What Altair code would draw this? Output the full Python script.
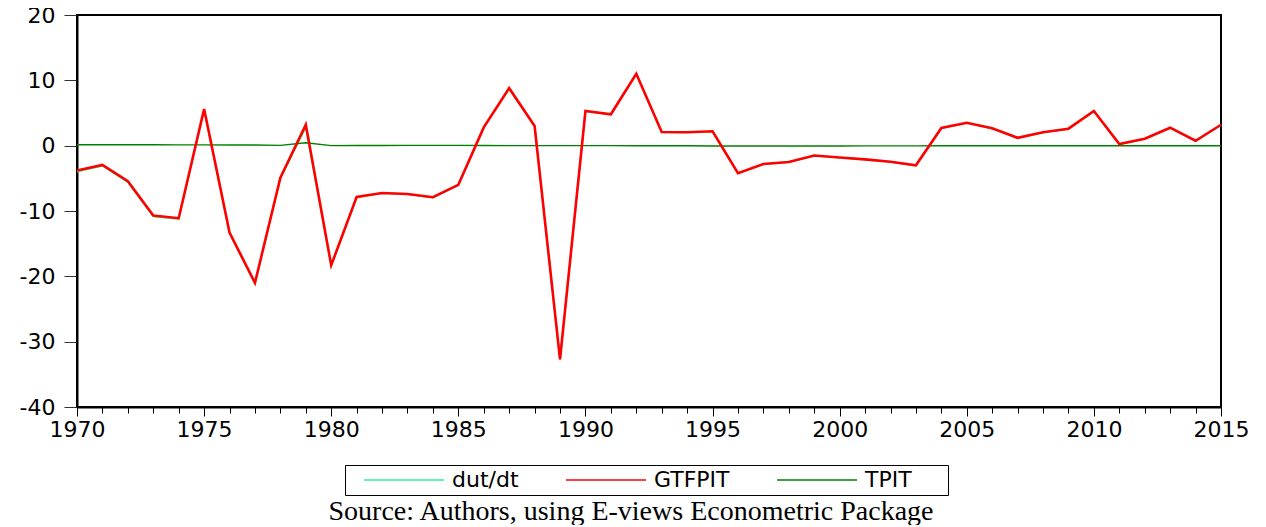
import altair as alt
import pandas as pd

years = list(range(1970, 2016))

gtfpit = [-3.8, -2.95, -5.45, -10.7, -11.1, 5.6, -13.3, -21.0, -4.9, 3.2,
          -18.3, -7.85, -7.25, -7.4, -7.9, -6.0, 2.8, 8.8, 3.0, -32.7,
          5.3, 4.8, 11.0, 2.1, 2.05, 2.2, -4.2, -2.8, -2.5, -1.5,
          -1.8, -2.1, -2.45, -3.0, 2.7, 3.5, 2.65, 1.2, 2.05, 2.6,
          5.3, 0.25, 1.05, 2.75, 0.75, 3.2]

dut_dt = [-4.0, -3.1, -5.6, -10.85, -11.25, 5.45, -13.45, -21.15, -5.0, 2.75,
          -18.35, -7.9, -7.3, -7.45, -7.95, -6.05, 2.75, 8.75, 2.95, -32.75,
          5.25, 4.75, 10.95, 2.05, 2.0, 2.15, -4.25, -2.85, -2.55, -1.55,
          -1.85, -2.15, -2.5, -3.05, 2.65, 3.45, 2.6, 1.15, 2.0, 2.55,
          5.25, 0.2, 1.0, 2.7, 0.7, 3.15]

tpit = [0.15, 0.15, 0.15, 0.15, 0.12, 0.12, 0.1, 0.1, 0.05, 0.45,
        0.0, 0.02, 0.02, 0.05, 0.05, 0.05, 0.03, 0.0, 0.0, 0.0,
        0.0, 0.0, -0.02, -0.02, -0.02, -0.05, -0.05, -0.05, -0.05, -0.05,
        -0.05, -0.03, -0.03, -0.03, -0.02, -0.02, -0.02, -0.02, -0.02, -0.02,
        -0.02, -0.02, -0.02, -0.02, -0.02, -0.02]

series_names = ["dut/dt", "GTFPIT", "TPIT"]
series_colors = ["#33F08A", "#FF0000", "#008000"]
series_widths = {"dut/dt": 1.5, "GTFPIT": 2.6, "TPIT": 1.4}
y_ticks = [20, 10, 0, -10, -20, -30, -40]

rows = []
for name, vals in zip(series_names, [dut_dt, gtfpit, tpit]):
    for yr, v in zip(years, vals):
        rows.append({"year": yr, "value": v, "series": name})
df = pd.DataFrame(rows)

FONT = "DejaVu Sans"

color = alt.Color(
    "series:N",
    scale=alt.Scale(domain=series_names, range=series_colors),
    legend=alt.Legend(
        orient="none", legendX=268, legendY=450, direction="horizontal",
        title=None, symbolType="M-4,0H4", symbolSize=400, symbolStrokeWidth=1.5,
        symbolOffset=44,
        labelFont=FONT, labelFontSize=22, labelColor="black",
        labelExpr="datum.value == 'TPIT' ? 'TPIT\u2800\u2800' : datum.label",
        strokeColor="black", padding=4, columnPadding=32,
        labelOffset=37, labelLimit=300,
    ),
)

x = alt.X(
    "year:Q",
    scale=alt.Scale(domain=[1970, 2015], nice=False, zero=False),
    axis=alt.Axis(
        title=None, values=years, grid=False,
        labelExpr="datum.value % 5 === 0 ? '' + datum.value : ''",
        tickSize={"condition": {"test": "datum.value % 5 === 0", "value": 9}, "value": 6},
        tickColor="black", domainColor="black", domainWidth=2,
        labelFont=FONT, labelFontSize=22, labelColor="black",
        labelFlush=False, labelOverlap=False, labelPadding=3,
    ),
)
y = alt.Y(
    "value:Q",
    scale=alt.Scale(domain=[-40, 20], nice=False, zero=False),
    axis=alt.Axis(
        title=None, values=y_ticks, grid=False,
        labelExpr="'' + datum.value",
        tickSize=13, tickColor="#333333", domainColor="black", domainWidth=2,
        labelFont=FONT, labelFontSize=22, labelColor="black",
        labelPadding=9, labelFlush=False, labelOverlap=False,
    ),
)

base = alt.Chart(df)
layers = []
for name in ["dut/dt", "TPIT", "GTFPIT"]:
    layers.append(
        base.transform_filter(alt.datum.series == name)
        .mark_line(strokeJoin="miter", strokeWidth=series_widths[name])
        .encode(x=x, y=y, color=color)
    )

chart = alt.layer(*layers).properties(
    width=1144, height=392,
    autosize=alt.AutoSizeParams(type="none"),
    padding={"left": 69, "top": 7, "right": 37, "bottom": 118},
    title=alt.TitleParams(
        "Source: Authors, using E-views Econometric Package",
        orient="bottom", anchor="middle", font="Liberation Serif",
        fontSize=28, fontWeight="normal", color="black", offset=2, dx=-18,
    ),
).configure_view(stroke="black", strokeWidth=2)

chart.save("out.html", embed_options={"renderer": "svg", "actions": False})
